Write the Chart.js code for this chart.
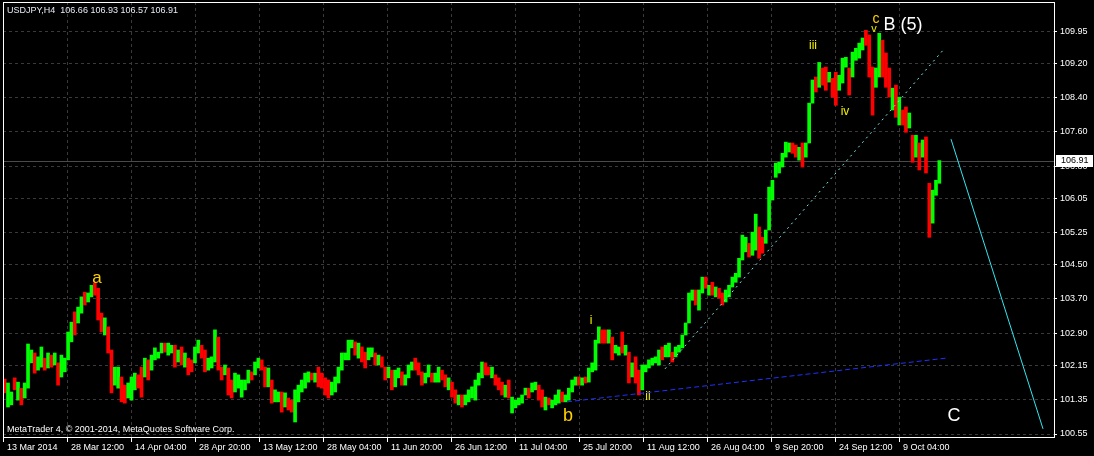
<!DOCTYPE html>
<html>
<head>
<meta charset="utf-8">
<script src="https://cdn.jsdelivr.net/npm/chart.js@4.4.1/dist/chart.umd.min.js"></script>
<style>
  html, body { margin: 0; background: #000; overflow: hidden; }
  canvas { display: block; }
</style>
</head>
<body>
<canvas id="chart" width="1094" height="456"></canvas>
<script>
// USDJPY H4, Mar-Oct 2014 (each entry spans ~3.3 H4 bars)
const highs = [
  101.83, 101.74, 101.53, 101.86, 101.76, 101.62, 101.74, 102.65, 102.51, 102.44,
  102.35, 102.58, 102.32, 102.44, 102.39, 102.44, 102.21, 102.39, 102.32, 102.93,
  103.16, 103.40, 103.51, 103.75, 103.86, 103.84, 104.02, 104.07, 103.95, 103.37,
  103.26, 103.05, 102.51, 102.11, 102.11, 101.88, 101.69, 101.74, 101.88, 101.97,
  101.93, 102.11, 102.32, 102.28, 102.39, 102.56, 102.46, 102.67, 102.67, 102.67,
  102.62, 102.62, 102.51, 102.58, 102.44, 102.32, 102.28, 102.58, 102.74, 102.62,
  102.51, 102.32, 102.35, 102.98, 102.81, 102.11, 102.16, 102.09, 101.81, 101.97,
  101.93, 101.81, 101.81, 102.04, 102.00, 102.23, 102.32, 102.28, 102.11, 102.09,
  101.81, 101.58, 101.53, 101.53, 101.51, 101.39, 101.34, 101.58, 101.69, 101.81,
  101.97, 102.00, 101.97, 101.97, 102.11, 101.97, 101.86, 101.81, 101.76, 101.88,
  102.11, 102.44, 102.44, 102.74, 102.74, 102.70, 102.67, 102.58, 102.46, 102.56,
  102.56, 102.44, 102.39, 102.35, 102.11, 102.11, 102.04, 102.04, 102.09, 102.00,
  101.93, 102.16, 102.23, 102.32, 102.21, 102.00, 101.97, 102.16, 101.97, 101.97,
  102.11, 102.04, 101.93, 101.86, 101.76, 101.58, 101.46, 101.46, 101.46, 101.58,
  101.65, 101.81, 101.97, 102.23, 102.21, 102.11, 102.11, 101.93, 101.86, 101.76,
  101.69, 101.81, 101.41, 101.34, 101.39, 101.46, 101.62, 101.62, 101.74, 101.76,
  101.69, 101.58, 101.41, 101.39, 101.34, 101.46, 101.58, 101.53, 101.46, 101.62,
  101.81, 101.88, 101.88, 101.86, 101.88, 102.09, 102.21, 102.74, 103.05, 102.98,
  102.98, 102.98, 102.81, 102.62, 102.58, 102.93, 102.62, 102.46, 102.21, 102.35,
  102.04, 102.16, 102.16, 102.28, 102.32, 102.35, 102.51, 102.58, 102.62, 102.67,
  102.46, 102.58, 102.62, 102.86, 103.14, 103.84, 103.91, 103.91, 103.91, 104.21,
  104.21, 104.02, 104.09, 103.98, 103.95, 103.84, 103.91, 104.02, 104.21, 104.30,
  104.65, 105.19, 105.14, 105.00, 105.26, 105.68, 105.38, 105.14, 105.31, 106.31,
  106.47, 106.87, 106.89, 107.10, 107.36, 107.34, 107.34, 107.29, 107.24, 107.34,
  107.34, 108.27, 108.81, 108.88, 109.22, 109.09, 109.11, 108.99, 108.85, 108.99,
  108.92, 109.32, 109.34, 109.09, 109.46, 109.55, 109.67, 109.79, 109.97, 109.86,
  109.11, 109.09, 109.90, 109.74, 109.44, 109.09, 108.62, 108.69, 108.41, 108.11,
  108.18, 108.04, 107.52, 107.52, 107.34, 107.41, 107.48, 106.40, 106.24, 106.47, 106.93
];

const lows = [
  101.51, 101.18, 101.23, 101.58, 101.34, 101.23, 101.39, 101.62, 102.21, 101.97,
  102.04, 102.11, 102.04, 102.09, 102.11, 102.16, 101.69, 101.88, 102.00, 102.28,
  102.70, 102.86, 103.14, 103.37, 103.56, 103.63, 103.75, 103.79, 103.21, 102.93,
  102.86, 102.44, 101.51, 101.69, 101.62, 101.30, 101.27, 101.39, 101.34, 101.58,
  101.62, 101.41, 101.88, 101.81, 102.04, 102.28, 102.32, 102.44, 102.46, 102.39,
  102.44, 102.11, 102.23, 102.16, 102.11, 101.93, 102.00, 102.21, 102.44, 102.32,
  102.00, 102.04, 102.09, 102.23, 102.04, 101.81, 101.93, 101.46, 101.39, 101.53,
  101.62, 101.41, 101.58, 101.74, 101.81, 101.93, 102.09, 102.04, 101.65, 101.65,
  101.27, 101.30, 101.30, 101.06, 101.18, 101.11, 101.06, 100.83, 101.30, 101.53,
  101.62, 101.76, 101.81, 101.76, 101.65, 101.62, 101.46, 101.39, 101.46, 101.53,
  101.74, 102.04, 102.28, 102.28, 102.56, 102.39, 102.32, 102.23, 102.09, 102.28,
  102.35, 102.16, 102.16, 102.11, 101.81, 101.86, 101.58, 101.65, 101.86, 101.69,
  101.69, 101.86, 102.04, 102.04, 101.93, 101.69, 101.74, 101.88, 101.76, 101.76,
  101.76, 101.81, 101.65, 101.58, 101.41, 101.27, 101.23, 101.18, 101.23, 101.30,
  101.39, 101.34, 101.69, 101.86, 101.93, 101.93, 101.86, 101.69, 101.58, 101.46,
  101.41, 101.39, 101.04, 101.16, 101.23, 101.27, 101.46, 101.39, 101.53, 101.58,
  101.34, 101.18, 101.11, 101.23, 101.16, 101.23, 101.27, 101.30, 101.30, 101.34,
  101.53, 101.69, 101.69, 101.69, 101.74, 101.76, 102.00, 102.04, 102.67, 102.67,
  102.67, 102.67, 102.28, 102.44, 102.39, 102.44, 102.39, 101.74, 101.88, 101.74,
  101.46, 101.58, 102.00, 102.09, 102.16, 102.21, 102.16, 102.28, 102.35, 102.35,
  102.23, 102.35, 102.46, 102.56, 102.86, 103.14, 103.67, 103.56, 103.44, 103.84,
  103.95, 103.79, 103.79, 103.75, 103.72, 103.56, 103.63, 103.75, 103.98, 104.09,
  104.21, 104.61, 104.80, 104.68, 104.72, 104.84, 104.65, 104.77, 105.00, 105.31,
  106.01, 106.54, 106.64, 106.78, 107.01, 107.13, 107.10, 107.01, 106.94, 106.78,
  107.01, 107.34, 108.27, 108.53, 108.64, 108.69, 108.57, 108.76, 108.41, 108.22,
  108.57, 108.74, 109.11, 108.46, 108.88, 109.27, 109.32, 109.51, 109.62, 108.88,
  107.99, 108.64, 108.88, 108.88, 108.64, 108.41, 108.11, 107.94, 107.76, 107.76,
  107.59, 107.69, 106.89, 107.01, 106.71, 107.01, 106.64, 105.14, 105.47, 106.12, 106.40
];

// 1 = bull bar (green), 0 = bear bar (red)
const barUp = [
  0,1,1,0,1,0,1,1,1,0, 1,1,0,1,0,1,0,1,1,1, 1,0,1,1,0,1,1,0,0,0, 1,0,0,1,1,0,0,1,1,1,
  0,0,1,0,1,1,1,1,0,1, 1,0,1,0,1,0,0,1,1,0, 0,1,1,1,0,0,1,0,0,1, 1,1,1,1,0,1,1,0,0,1,
  0,1,1,0,1,0,0,1,1,1, 1,1,0,1,0,0,0,0,1,1, 1,1,1,1,1,0,1,0,0,1, 1,0,1,0,0,1,0,1,1,0,
  1,1,1,0,0,0,1,1,0,1, 1,0,0,1,0,0,1,0,1,1, 1,1,1,1,0,0,1,0,0,0, 1,0,1,1,1,1,1,0,1,1,
  0,0,1,0,1,1,1,0,1,1, 1,1,0,1,0,1,1,1,1,0, 0,1,0,1,1,0,1,0,1,0, 0,1,1,1,1,1,1,0,1,1,
  0,1,1,1,1,1,1,0,1,1, 0,1,0,1,0,0,1,1,1,1, 1,1,1,0,1,1,0,0,1,1, 1,1,1,1,1,1,0,0,1,0,
  1,1,1,0,1,0,0,1,0,0, 1,1,1,0,1,1,1,1,0,0, 0,1,1,0,0,0,1,0,1,0, 0,1,0,1,0,1,0,0,1,1,1
];

// time axis in H4 bars, a label every 64 bars
const dateLabels = [
  '13 Mar 2014', '28 Mar 12:00', '14 Apr 04:00', '28 Apr 20:00', '13 May 12:00',
  '28 May 04:00', '11 Jun 20:00', '26 Jun 12:00', '11 Jul 04:00', '25 Jul 20:00',
  '11 Aug 12:00', '26 Aug 04:00', '9 Sep 20:00', '24 Sep 12:00', '9 Oct 04:00'
];
const priceTicks = [100.55, 101.35, 102.15, 102.90, 103.70, 104.50, 105.25,
                    106.05, 106.80, 107.60, 108.40, 109.20, 109.95];

const lastPrice = 106.91;
const headerText = 'USDJPY,H4  106.66 106.93 106.57 106.91';
const footerText = 'MetaTrader 4, \u00A9 2001-2014, MetaQuotes Software Corp.';

// trend lines: [bar, price] end points
const upTrend = [[662, 102.07], [941, 109.53]];
const baseLine = [[564, 101.30], [943, 102.32]];
const targetLine = [[948, 107.43], [1040, 100.67]];

// Elliott wave labels anchored at bar / price
const GOLD = '#ffd200';
const YEL = '#f0f000';
const waveLabels = [
  { text: 'a', bar: 94, price: 104.19, color: GOLD, size: 17 },
  { text: 'b', bar: 565, price: 100.97, color: GOLD, size: 18 },
  { text: 'c', bar: 873, price: 110.23, color: GOLD, size: 14 },
  { text: 'i', bar: 588, price: 103.19, color: YEL, size: 12 },
  { text: 'ii', bar: 645, price: 101.41, color: YEL, size: 12 },
  { text: 'iii', bar: 810, price: 109.60, color: YEL, size: 12 },
  { text: 'iv', bar: 842, price: 108.08, color: YEL, size: 12 },
  { text: 'v', bar: 871, price: 110.00, color: YEL, size: 11 },
  { text: 'B (5)', bar: 900, price: 110.09, color: '#ffffff', size: 18 },
  { text: 'C', bar: 951, price: 100.97, color: '#ffffff', size: 18 }
];

const BARS_SPANNED = 938;
const FONT = "'Liberation Sans', Arial, sans-serif";
const GRID = '#3a3a3a';

const step = BARS_SPANNED / highs.length;
const candles = highs.map((h, i) => ({ x: (i + 0.5) * step, y: [lows[i], h] }));
const toPoints = pts => pts.map(p => ({ x: p[0], y: p[1] }));

const mt4Plugin = {
  id: 'mt4',
  beforeDraw(chart) {
    const ctx = chart.ctx;
    ctx.save();
    ctx.fillStyle = '#000';
    ctx.fillRect(0, 0, chart.width, chart.height);
    ctx.restore();
  },
  beforeDatasetsDraw(chart) {
    const { ctx, chartArea: a, scales } = chart;
    const y = Math.round(scales.y.getPixelForValue(lastPrice)) + 0.5;
    ctx.save();
    ctx.strokeStyle = '#4a4a4a';
    ctx.lineWidth = 1;
    ctx.beginPath();
    ctx.moveTo(a.left, y);
    ctx.lineTo(a.right, y);
    ctx.stroke();
    ctx.restore();
  },
  afterDraw(chart) {
    const { ctx, chartArea: a, scales } = chart;
    ctx.save();
    // frame
    ctx.strokeStyle = '#ffffff';
    ctx.lineWidth = 1;
    ctx.strokeRect(a.left + 0.5, a.top + 0.5, a.right - a.left, a.bottom - a.top);

    // header and copyright
    ctx.font = '9px ' + FONT;
    ctx.textBaseline = 'middle';
    ctx.textAlign = 'left';
    ctx.fillStyle = '#e6ecf5';
    ctx.fillText(headerText, a.left + 4, a.top + 9);
    ctx.fillStyle = '#ffffff';
    ctx.fillText(footerText, a.left + 4, a.bottom - 7);

    // wave labels
    ctx.textAlign = 'center';
    waveLabels.forEach(l => {
      ctx.font = l.size + 'px ' + FONT;
      ctx.fillStyle = l.color;
      ctx.fillText(l.text, scales.x.getPixelForValue(l.bar), scales.y.getPixelForValue(l.price));
    });

    // current price tag
    const py = Math.round(scales.y.getPixelForValue(lastPrice));
    ctx.fillStyle = '#ffffff';
    ctx.fillRect(a.right + 2, py - 6, 37, 12);
    ctx.fillStyle = '#000000';
    ctx.font = '9px ' + FONT;
    ctx.textAlign = 'left';
    ctx.fillText(lastPrice.toFixed(2), a.right + 7, py);
    ctx.restore();
  }
};

new Chart(document.getElementById('chart'), {
  data: {
    datasets: [
      {
        type: 'line', data: toPoints(upTrend), borderColor: '#7fe6e6', borderWidth: 1,
        borderDash: [2, 4], pointRadius: 0, order: 0
      },
      {
        type: 'line', data: toPoints(baseLine), borderColor: '#2030ff', borderWidth: 1,
        borderDash: [5, 3], pointRadius: 0, order: 0
      },
      {
        type: 'line', data: toPoints(targetLine), borderColor: '#33e6f0', borderWidth: 1,
        pointRadius: 0, order: 0
      },
      {
        type: 'bar', data: candles, order: 1,
        backgroundColor: barUp.map(u => (u ? '#00ff00' : '#ff0000')),
        borderWidth: 0, borderSkipped: false, barThickness: 3
      }
    ]
  },
  options: {
    responsive: false,
    animation: false,
    devicePixelRatio: 1,
    layout: { padding: { left: 3, top: 2, right: 0, bottom: 0 } },
    plugins: { legend: { display: false }, tooltip: { enabled: false } },
    scales: {
      x: {
        type: 'linear', min: 0, max: 1051, offset: false,
        afterBuildTicks: s => { s.ticks = dateLabels.map((_, i) => ({ value: i * 64 })); },
        afterFit: s => { s.height = 19; s.paddingLeft = 0; s.paddingRight = 0; },
        border: { display: false, dash: [3, 3] },
        grid: { color: GRID, tickColor: '#ffffff', tickLength: 5, tickBorderDash: [], offset: false },
        ticks: {
          color: '#ffffff', font: { family: FONT, size: 9 }, autoSkip: false,
          maxRotation: 0, align: 'start', labelOffset: 4, padding: 0,
          callback: (v, i) => dateLabels[i]
        }
      },
      y: {
        type: 'linear', position: 'right', min: 100.48, max: 110.63,
        afterBuildTicks: s => { s.ticks = priceTicks.map(v => ({ value: v })); },
        afterFit: s => { s.width = 40; s.paddingTop = 0; s.paddingBottom = 0; },
        border: { display: false, dash: [3, 3] },
        grid: { color: GRID, tickColor: '#ffffff', tickLength: 3, tickBorderDash: [] },
        ticks: {
          color: '#ffffff', font: { family: FONT, size: 9 }, padding: 3,
          callback: v => v.toFixed(2)
        }
      }
    }
  },
  plugins: [mt4Plugin]
});
</script>
</body>
</html>
